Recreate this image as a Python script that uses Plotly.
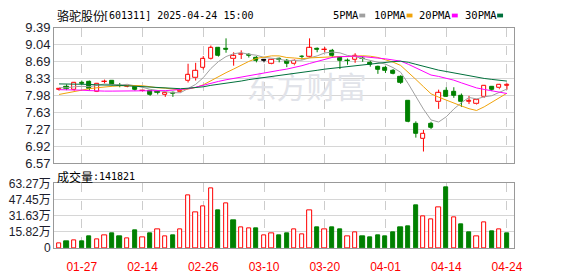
import numpy as np
import plotly.graph_objects as go

# ---------------- data ----------------
stock_cn = "骆驼股份"
stock_rest = "[601311] 2025-04-24 15:00"
vol_title_cn = "成交量"
vol_title_rest = ":141821"

tick_idx = [3, 11, 19, 27, 35, 43, 51, 59]
tick_labels = ["01-27", "02-14", "02-26", "03-10", "03-20", "04-01", "04-14", "04-24"]

price_labels = ["6.57", "6.92", "7.27", "7.63", "7.98", "8.33", "8.69", "9.04", "9.39"]
price_lo, price_hi = 6.57, 9.39
vol_labels = ["0", "15.82万", "31.63万", "47.45万", "63.27万"]
vol_hi = 63.27  # 万

opens = [8.10, 8.17, 8.10, 8.24, 8.26, 8.06, 8.26, 8.28, 8.19, 8.17,
         8.17, 8.07, 8.08, 8.05, 8.00, 8.04, 8.05, 8.28, 8.34, 8.56,
         8.74, 8.97, 8.95, 8.74, 8.83, 8.82, 8.77, 8.71, 8.64, 8.74,
         8.71, 8.63, 8.79, 8.79, 8.95, 8.93, 8.92, 8.77, 8.71, 8.72,
         8.75, 8.67, 8.58, 8.56, 8.50, 8.37, 7.86, 7.39, 7.08, 7.39,
         7.84, 8.07, 8.05, 7.97, 7.85, 7.80, 7.95, 8.15, 8.13, 8.19]
highs = [8.13, 8.21, 8.26, 8.29, 8.29, 8.24, 8.31, 8.29, 8.24, 8.20,
         8.18, 8.09, 8.08, 8.06, 8.05, 8.06, 8.09, 8.64, 8.66, 8.80,
         9.02, 8.99, 9.17, 8.88, 8.92, 8.86, 8.80, 8.73, 8.74, 8.77,
         8.74, 8.73, 8.82, 9.17, 8.98, 8.99, 8.95, 8.79, 8.75, 8.86,
         8.80, 8.70, 8.60, 8.59, 8.53, 8.40, 7.88, 7.44, 7.26, 7.43,
         8.10, 8.15, 8.15, 8.02, 7.97, 7.89, 8.19, 8.17, 8.22, 8.23]
lows = [8.08, 8.09, 8.08, 8.20, 8.08, 8.05, 8.23, 8.19, 8.15, 8.15,
        8.08, 8.06, 7.97, 8.00, 7.95, 7.95, 8.04, 8.25, 8.29, 8.52,
        8.73, 8.79, 8.87, 8.60, 8.74, 8.77, 8.67, 8.67, 8.63, 8.67,
        8.57, 8.61, 8.73, 8.77, 8.88, 8.88, 8.77, 8.53, 8.62, 8.66,
        8.68, 8.58, 8.43, 8.45, 8.42, 8.22, 7.42, 7.10, 6.81, 7.28,
        7.70, 7.95, 7.93, 7.74, 7.80, 7.79, 7.93, 8.07, 8.11, 8.10]
closes = [8.11, 8.11, 8.25, 8.23, 8.11, 8.23, 8.27, 8.20, 8.18, 8.18,
          8.10, 8.08, 8.00, 8.04, 8.04, 8.02, 8.08, 8.41, 8.50, 8.74,
          8.97, 8.81, 8.93, 8.80, 8.84, 8.81, 8.71, 8.71, 8.73, 8.73,
          8.63, 8.71, 8.78, 8.97, 8.93, 8.94, 8.80, 8.70, 8.70, 8.80,
          8.74, 8.61, 8.52, 8.49, 8.44, 8.25, 7.42, 7.17, 7.19, 7.31,
          8.04, 7.96, 7.98, 7.85, 7.86, 7.88, 8.18, 8.10, 8.21, 8.20]

volumes = [4.9, 7.1, 8.0, 7.1, 11.7, 9.0, 12.3, 14.5, 11.7, 9.6,
           17.3, 10.5, 14.5, 17.9, 11.4, 12.7, 18.8, 51.2, 34.6, 41.0,
           58.6, 36.7, 43.8, 27.5, 20.7, 19.8, 19.1, 12.3, 14.2, 12.7,
           14.5, 18.8, 13.3, 37.3, 20.1, 18.8, 20.1, 18.2, 11.4, 15.1,
           11.7, 10.8, 12.7, 11.7, 15.4, 20.1, 21.0, 41.4, 30.9, 28.1,
           40.1, 59.0, 29.9, 22.8, 15.4, 11.4, 25.6, 16.4, 17.9, 14.1821]  # 万
vol_dir = list("rgrggrrggr" "grgrrgrrrr" "rgrgrrgrrg" "grrrgrggrr" "ggggggggrr" "rgrggrrgrg")

ma5 = [8.14, 8.14, 8.16, 8.17, 8.162, 8.186, 8.218, 8.208, 8.198, 8.212,
       8.186, 8.148, 8.108, 8.08, 8.052, 8.036, 8.036, 8.118, 8.21, 8.35,
       8.54, 8.686, 8.79, 8.85, 8.87, 8.838, 8.818, 8.774, 8.76, 8.738,
       8.702, 8.702, 8.716, 8.764, 8.804, 8.866, 8.884, 8.868, 8.814, 8.788,
       8.748, 8.71, 8.674, 8.632, 8.56, 8.462, 8.224, 7.954, 7.694, 7.468,
       7.426, 7.534, 7.696, 7.828, 7.938, 7.906, 7.95, 7.974, 8.046, 8.114]
ma10 = [8.00, 8.03, 8.07, 8.10, 8.12, 8.14, 8.16, 8.17, 8.18, 8.187,
        8.186, 8.183, 8.158, 8.139, 8.132, 8.111, 8.092, 8.113, 8.145, 8.201,
        8.288, 8.361, 8.454, 8.53, 8.61, 8.689, 8.752, 8.782, 8.805, 8.804,
        8.77, 8.76, 8.745, 8.762, 8.771, 8.784, 8.793, 8.792, 8.789, 8.796,
        8.807, 8.797, 8.771, 8.723, 8.674, 8.605, 8.467, 8.314, 8.163, 8.014,
        7.944, 7.879, 7.825, 7.761, 7.703, 7.666, 7.742, 7.835, 7.937, 8.026]
ma20 = [8.10, 8.10, 8.10, 8.09, 8.08, 8.07, 8.07, 8.07, 8.07, 8.07,
        8.07, 8.07, 8.07, 8.08, 8.08, 8.09, 8.10, 8.12, 8.15, 8.194,
        8.237, 8.272, 8.306, 8.335, 8.371, 8.40, 8.422, 8.448, 8.475, 8.503,
        8.529, 8.561, 8.60, 8.646, 8.691, 8.737, 8.773, 8.787, 8.797, 8.80,
        8.789, 8.779, 8.758, 8.743, 8.723, 8.695, 8.63, 8.553, 8.476, 8.405,
        8.376, 8.338, 8.298, 8.242, 8.189, 8.136, 8.105, 8.075, 8.05, 8.02]
ma30 = [8.22, 8.22, 8.22, 8.21, 8.21, 8.20, 8.20, 8.19, 8.19, 8.18,
        8.17, 8.16, 8.15, 8.14, 8.13, 8.12, 8.12, 8.13, 8.14, 8.16,
        8.19, 8.21, 8.24, 8.26, 8.28, 8.31, 8.33, 8.35, 8.375, 8.397,
        8.415, 8.435, 8.452, 8.477, 8.504, 8.528, 8.546, 8.562, 8.58, 8.60,
        8.622, 8.639, 8.657, 8.672, 8.685, 8.693, 8.671, 8.629, 8.586, 8.538,
        8.507, 8.479, 8.447, 8.415, 8.383, 8.352, 8.334, 8.314, 8.296, 8.279]

ma_names = ["5PMA", "10PMA", "20PMA", "30PMA"]

# ---------------- styling ----------------
W, H = 578, 276
RED = "#ff0000"
GREEN = "#008000"
BLACK = "#000000"
MA_COLORS = ["#a0a0a0", "#f0a30a", "#ff00ff", "#00703c"]
GRID = "#d6d6d6"
VGRID = "#cccccc"
BORDER = "#999999"

left_px, right_px = 55, 522
price_top_px, price_bot_px = 22, 165
vol_top_px, vol_bot_px = 186.5, 255

def px_x(p):
    return p / W

def px_y(p):
    return 1 - p / H

n = len(closes)
xs = list(range(n))
BODY_W = 0.56

fig = go.Figure()

# watermark
fig.add_trace(go.Scatter(
    x=[32.6], y=[8.08], mode="text", text=["东方财富"],
    textfont=dict(family="Noto Sans CJK SC", size=30, color="#e1e3e9"),
    hoverinfo="skip", xaxis="x", yaxis="y"))

# wicks
wick = {"up": ([], []), "down": ([], []), "flat": ([], [])}
body = {"up": ([], [], []), "down": ([], [], []), "flat": ([], [], [])}
for i in xs:
    o, h, l, c = opens[i], highs[i], lows[i], closes[i]
    kind = "up" if c > o else ("down" if c < o else "flat")
    top, bot = max(o, c), min(o, c)
    wx, wy = wick[kind]
    if kind == "up":
        wx += [i, i, None, i, i, None]
        wy += [h, top, None, bot, l, None]
    else:
        wx += [i, i, None]
        wy += [h, l, None]
    bx, bb, bh = body[kind]
    bx.append(i)
    bb.append(bot)
    bh.append(max(top - bot, 0.004))

wick_colors = {"up": RED, "down": GREEN, "flat": BLACK}
for k in ["up", "down", "flat"]:
    wx, wy = wick[k]
    if wx:
        fig.add_trace(go.Scatter(x=wx, y=wy, mode="lines",
                                 line=dict(color=wick_colors[k], width=1),
                                 hoverinfo="skip", xaxis="x", yaxis="y"))

fills = {"up": "#ffffff", "down": GREEN, "flat": BLACK}
for k in ["up", "down", "flat"]:
    bx, bb, bh = body[k]
    if bx:
        fig.add_trace(go.Bar(x=bx, y=bh, base=bb, width=BODY_W,
                             marker=dict(color=fills[k],
                                         line=dict(color=wick_colors[k], width=1)),
                             hoverinfo="skip", xaxis="x", yaxis="y"))

# moving averages
for vals, col in zip([ma5, ma10, ma20, ma30], MA_COLORS):
    fig.add_trace(go.Scatter(x=xs, y=vals, mode="lines",
                             line=dict(color=col, width=1),
                             hoverinfo="skip", xaxis="x", yaxis="y"))

# volume
for d, fc, lc in [("r", "#ffffff", RED), ("g", GREEN, GREEN)]:
    vx = [i for i in xs if vol_dir[i] == d]
    vy = [volumes[i] for i in vx]
    fig.add_trace(go.Bar(x=vx, y=vy, width=BODY_W,
                         marker=dict(color=fc, line=dict(color=lc, width=1)),
                         hoverinfo="skip", xaxis="x2", yaxis="y2"))

x_range = [-0.64, 59.91]
xdom = [px_x(left_px), px_x(right_px)]
axis_common = dict(showline=True, mirror=True, linecolor=BORDER, linewidth=1,
                   zeroline=False, ticks="")

fig.update_layout(
    width=W, height=H,
    margin=dict(l=0, r=0, t=0, b=0),
    paper_bgcolor="white", plot_bgcolor="white",
    showlegend=False, barmode="overlay", bargap=0,
    xaxis=dict(domain=xdom, range=x_range, anchor="y",
               tickvals=tick_idx, showticklabels=False,
               showgrid=True, gridcolor=VGRID, griddash="dash", gridwidth=1,
               **axis_common),
    yaxis=dict(domain=[px_y(price_bot_px), px_y(price_top_px)],
               range=[price_lo, price_hi], anchor="x",
               tickvals=list(np.linspace(price_lo, price_hi, len(price_labels))),
               ticktext=price_labels,
               tickfont=dict(family="Liberation Sans", size=13, color="#1c1c2c"),
               showgrid=True, gridcolor=GRID, gridwidth=1,
               **axis_common),
    xaxis2=dict(domain=xdom, range=x_range, anchor="y2",
                tickvals=tick_idx, ticktext=tick_labels,
                tickfont=dict(family="Liberation Sans", size=12, color=RED),
                ticklabelstandoff=7,
                showgrid=True, gridcolor=VGRID, griddash="dash", gridwidth=1,
                **axis_common),
    yaxis2=dict(domain=[px_y(vol_bot_px), px_y(vol_top_px)],
                range=[0, vol_hi], anchor="x2",
                tickvals=list(np.linspace(0, vol_hi, len(vol_labels))),
                ticktext=vol_labels,
                tickfont=dict(family="Liberation Sans, Noto Sans CJK SC", size=12, color="#1c1c2c"),
                showgrid=True, gridcolor=GRID, gridwidth=1,
                **axis_common),
)

ann = []
def add_text(txt, xpx, ypx, family, size, color="#000000"):
    ann.append(dict(text=txt, x=px_x(xpx), y=px_y(ypx), xref="paper", yref="paper",
                    xanchor="left", yanchor="middle", showarrow=False,
                    font=dict(family=family, size=size, color=color)))

add_text(stock_cn, 56, 8.5, "Noto Sans CJK SC", 12)
add_text(stock_rest, 103, 8.8, "DejaVu Sans Mono", 10)
add_text(vol_title_cn, 56, 179, "Noto Sans CJK SC", 12)
add_text(vol_title_rest, 92, 179.3, "DejaVu Sans Mono", 10)

legend_x = [338, 380, 426, 472]
swatch_x = [365, 413, 459, 505]
shapes = []
for name, lx, sx, col in zip(ma_names, legend_x, swatch_x, MA_COLORS):
    add_text(name, lx - 2, 8.8, "DejaVu Sans Mono", 10.5)
    shapes.append(dict(type="rect", xref="paper", yref="paper",
                       x0=px_x(sx), x1=px_x(sx + 6), y0=px_y(11), y1=px_y(7),
                       fillcolor=col, line=dict(width=0)))

fig.update_layout(annotations=ann, shapes=shapes)
fig.write_html("out.html")
